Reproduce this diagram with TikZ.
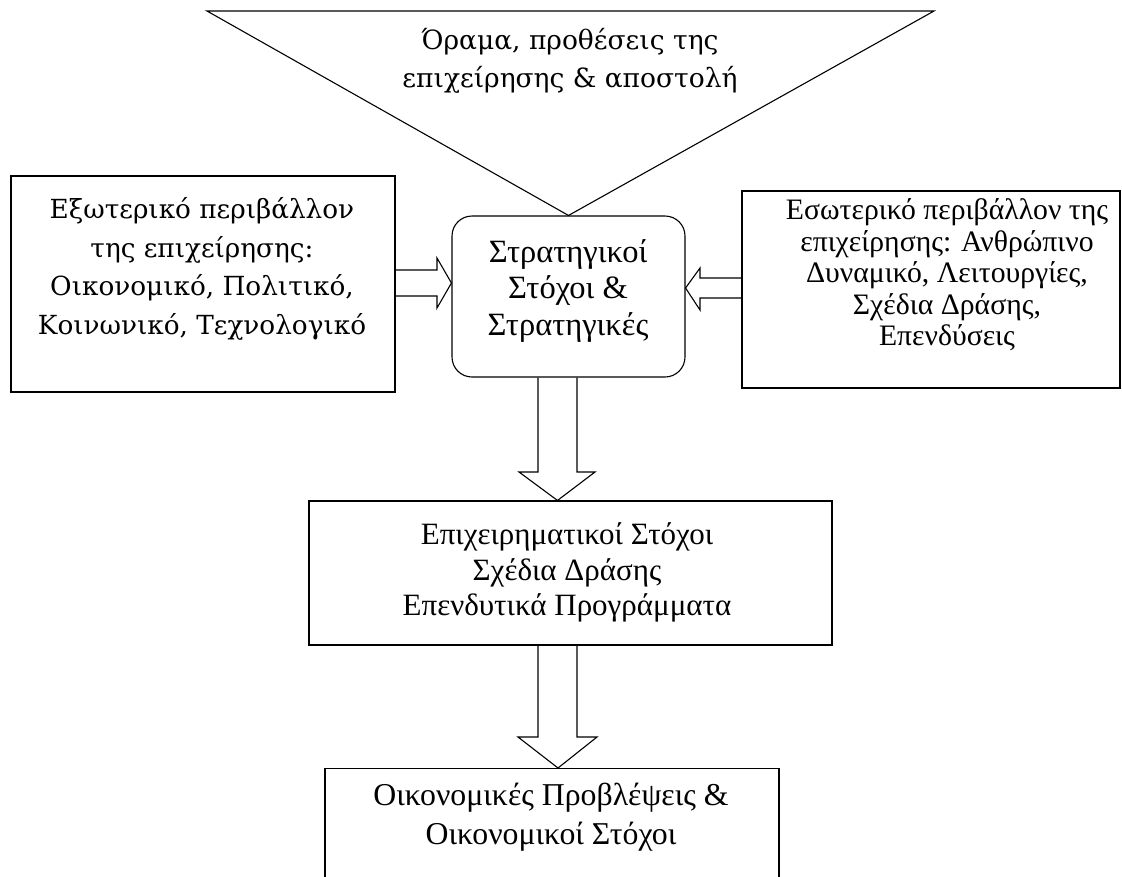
\documentclass[tikz,border=0pt]{standalone}
\usepackage{fontspec}
\setmainfont{Liberation Serif}
\newfontfamily\cambria{DejaVu Serif}
\usetikzlibrary{positioning}

\begin{document}
\begin{tikzpicture}[x=1pt, y=-1pt, line width=1.1pt,
        box/.style={draw, inner sep=0pt},
        txt/.style={align=center, inner sep=0pt}]
    \useasboundingbox (0,0) rectangle (1122,876);

    % frames
    \node[box, rounded corners=20pt, minimum width=233pt, minimum height=161pt] (strat) at (568.5,296.5) {};
    \node[box, minimum width=384pt, minimum height=216pt] (ext) at (203,284) {};
    \node[box, minimum width=378pt, minimum height=197pt] (int) at (931,289.5) {};
    \node[box, minimum width=523pt, minimum height=144pt] (plans) at (570.5,573) {};
    \node[box, minimum width=454pt, minimum height=240pt, anchor=north] (fin) at (552,768) {};

    % vision triangle
    \coordinate (visL) at (207,11);
    \coordinate (visR) at (934,11);
    \draw (visL) -- (visR) -- (strat.north) -- cycle;

    % texts
    \node[txt, font=\cambria\fontsize{26.5}{38}\selectfont] (vision) at (570,61)
        {Όραμα, προθέσεις της\\επιχείρησης \& αποστολή};
    \node[txt, font=\cambria\fontsize{26.3}{38.5}\selectfont] (extT) at (202,269)
        {Εξωτερικό περιβάλλον\\της επιχείρησης:\\Οικονομικό, Πολιτικό,\\Κοινωνικό, Τεχνολογικό};
    \node[txt, font=\fontsize{32.5}{36.5}\selectfont] (stratT) at (568,290.5)
        {Στρατηγικοί\\Στόχοι \&\\Στρατηγικές};
    \node[txt, font=\fontsize{29.7}{31.5}\selectfont] (intT) at (947,275)
        {Εσωτερικό περιβάλλον της\\επιχείρησης: Ανθρώπινο\\Δυναμικό, Λειτουργίες,\\Σχέδια Δράσης,\\Επενδύσεις};
    \node[txt, font=\fontsize{31}{35.5}\selectfont] (plansT) at (567,572.5)
        {Επιχειρηματικοί Στόχοι\\Σχέδια Δράσης\\Επενδυτικά Προγράμματα};
    \node[txt, font=\fontsize{31.8}{39}\selectfont] (finT) at (551,817.5)
        {Οικονομικές Προβλέψεις \&\\Οικονομικοί Στόχοι};

    % block arrows
    \draw (ext.east |- 0,270) -- (437,270) -- (437,258) -- (strat.west |- 0,283)
        -- (437,308) -- (437,296) -- (ext.east |- 0,296);
    \draw (int.west |- 0,278) -- (700,278) -- (700,268) -- (strat.east |- 0,288)
        -- (700,310) -- (700,298) -- (int.west |- 0,298);
    \draw (strat.south -| 538,0) -- (538,472) -- (519,472) -- (plans.north -| 557.5,0)
        -- (595,472) -- (577,472) -- (strat.south -| 577,0);
    \draw (plans.south -| 538,0) -- (538,737) -- (518,737) -- (fin.north -| 558,0)
        -- (597,737) -- (577,737) -- (plans.south -| 577,0);
\end{tikzpicture}
\end{document}
